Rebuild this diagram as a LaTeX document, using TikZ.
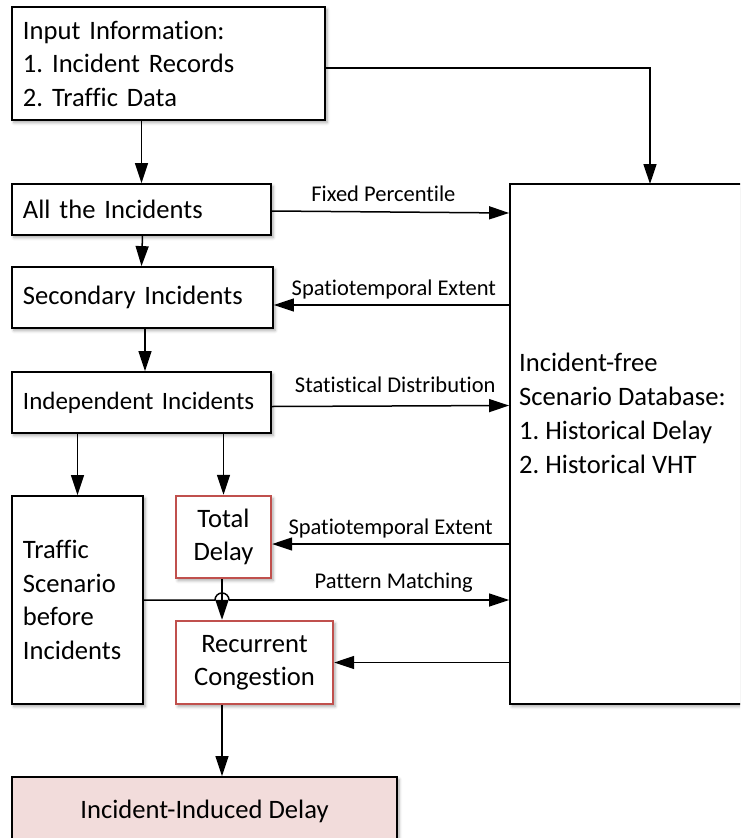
\documentclass[tikz,border=0pt]{standalone}
\usepackage{fontspec}
\setmainfont{Carlito}[Ligatures=CommonOff]
\usetikzlibrary{arrows.meta,calc,shadows.blur}
\definecolor{boxred}{RGB}{192,80,77}
\definecolor{boxpink}{RGB}{242,220,219}
\frenchspacing
\hyphenpenalty=10000
\begin{document}
\begin{tikzpicture}[x=1pt,y=-1pt,
  box/.style={draw=black, line width=1.8pt, fill=white, rectangle, inner sep=0pt,
    blur shadow={shadow xshift=2pt, shadow yshift=-2.5pt, shadow blur radius=3pt, shadow opacity=35},
    font=\fontsize{26.6}{33.5}\selectfont},
  leftbox/.style={box, align=left, text width=#1},
  redbox/.style={box, draw=boxred, line width=2.4pt, align=center},
  arr/.style={line width=1.5pt, -{Triangle[length=20pt,width=13pt]}},
  lbl/.style={font=\fontsize{22.5}{27}\selectfont, anchor=base, inner sep=0pt},
]
\useasboundingbox (0,0) rectangle (740,838);
\begin{scope}
\clip (0,0) rectangle (740,838);

% main boxes
\node[leftbox=291pt, minimum width=313pt, minimum height=113pt] (input) at (168.5,63.5)
  {Input Information:\\1. Incident Records\\2. Traffic Data};
\node[leftbox=237pt, minimum width=259pt, minimum height=51pt] (all) at (141.5,209.5)
  {All the Incidents};
\node[leftbox=239pt, minimum width=261pt, minimum height=61pt] (sec) at (142.5,297.5)
  {Secondary Incidents};
\node[leftbox=237pt, minimum width=259pt, minimum height=61pt, font=\fontsize{25}{30}\selectfont] (indep) at (141.5,402.5)
  {\mbox{Independent Incidents}};
\node[leftbox=109pt, minimum width=131pt, minimum height=208pt] (traffic) at (77.5,600)
  {Traffic\\Scenario\\before\\Incidents};
\node[redbox, minimum width=95pt, minimum height=82pt] (total) at (223.5,537)
  {Total\\Delay};
\node[redbox, minimum width=157pt, minimum height=83pt] (recur) at (254.5,662.5)
  {Recurrent\\Congestion};
\node[box, fill=boxpink, minimum width=385pt, minimum height=68pt] (iid) at (204.5,811)
  {Incident-Induced Delay};

% database box and its text
\node[box, minimum width=240pt, minimum height=520pt] (db) at (630,444) {};
\node[anchor=west, align=left, inner sep=0pt, font=\fontsize{26.6}{34}\selectfont] (dbtext) at (519,413)
  {Incident-free\\Scenario Database:\\1. Historical Delay\\2. Historical VHT};
\coordinate (dbin) at (650,184);

% vertical flow
\draw[arr] (all.north |- input.south) -- (all.north);
\draw[arr] (input.east |- 0,68) -| (dbin);
\draw[arr] (sec.north |- all.south) -- (sec.north -| all.south);
\draw[arr] ($(sec.south)+(2.5,0)$) -- ($(indep.north)+(3.5,0)$);
\draw[arr] (traffic.north |- indep.south) -- (traffic.north);
\draw[arr] (total.north |- indep.south) -- (total.north);
\draw[arr] ($(total.south)+(-1.5,0)$) -- ($(total.south |- recur.north)+(-1.5,0)$);
\draw[arr] ($(total.south |- recur.south)+(-1.5,0)$) -- ($(total.south |- iid.north)+(-1.5,0)$);

% exchanges with the database
\draw[arr] ($(all.east)+(0,1.5)$) -- node[lbl, pos=0.47, yshift=10pt] (l1) {Fixed Percentile} ($(db.west |- all.east)+(0,3.5)$);
\draw[arr] ($(db.west |- sec.east)+(0,7.5)$) -- node[lbl, pos=0.49, yshift=10pt] (l2) {Spatiotemporal Extent} ($(sec.east)+(0,7.5)$);
\draw[arr] ($(indep.east)+(0,4)$) -- node[lbl, pos=0.52, yshift=13pt] (l3) {Statistical Distribution} ($(db.west |- indep.east)+(0,3)$);
\draw[arr] ($(db.west |- total.east)+(0,7)$) -- node[lbl, pos=0.5, yshift=10pt] (l4) {Spatiotemporal Extent} ($(total.east)+(0,7)$);
\draw[line width=1.5pt] (traffic.east) -- ($(total.south |- traffic.east)+(-8.5,0)$)
  arc[start angle=180, end angle=0, radius=7pt];
\draw[arr] ($(total.south |- traffic.east)+(5.5,0)$) -- node[lbl, pos=0.588, yshift=12pt] (l5) {Pattern Matching} (db.west |- traffic.east);
\draw[arr] (db.west |- recur.east) -- (recur.east);
\end{scope}
\end{tikzpicture}
\end{document}
